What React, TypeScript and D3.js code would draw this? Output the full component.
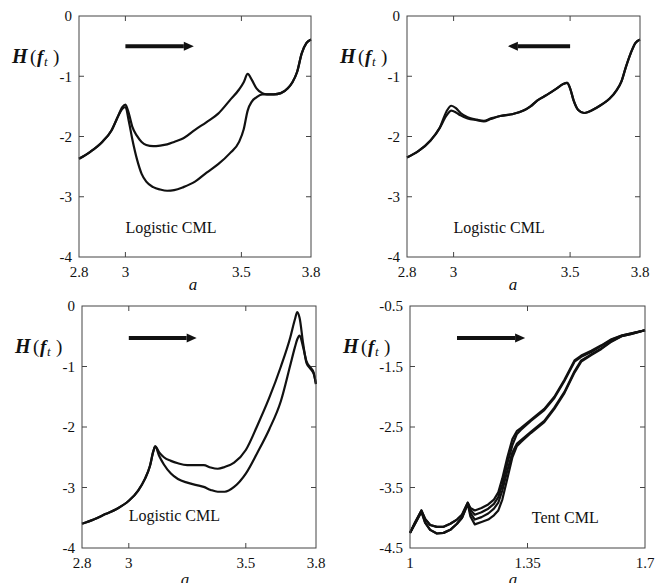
import React from "react";
import * as d3 from "d3";

const WIDTH = 657;
const HEIGHT = 583;
const SERIF = "Liberation Serif, Times New Roman, DejaVu Serif, serif";

// --- logistic CML, forward sweep (top left)
const p1A = [2.8, 2.85, 2.9, 2.94, 2.97, 2.985, 3.0, 3.015, 3.03, 3.05, 3.07, 3.09, 3.12, 3.15, 3.18, 3.21, 3.25, 3.3, 3.35, 3.4, 3.45, 3.49, 3.51, 3.527, 3.545, 3.565, 3.59, 3.61, 3.64, 3.67, 3.7, 3.72, 3.74, 3.76, 3.78, 3.8];
const p1Upper = [-2.37, -2.25, -2.09, -1.9, -1.65, -1.52, -1.47, -1.62, -1.84, -1.99, -2.09, -2.14, -2.16, -2.15, -2.13, -2.09, -2.03, -1.89, -1.76, -1.62, -1.4, -1.22, -1.1, -0.96, -1.06, -1.2, -1.28, -1.3, -1.3, -1.28, -1.2, -1.1, -0.93, -0.62, -0.45, -0.39];
const p1Lower = [-2.37, -2.25, -2.09, -1.9, -1.65, -1.55, -1.51, -1.75, -2.05, -2.38, -2.62, -2.75, -2.84, -2.88, -2.9, -2.89, -2.84, -2.75, -2.6, -2.46, -2.28, -2.09, -1.88, -1.57, -1.42, -1.35, -1.3, -1.3, -1.3, -1.28, -1.2, -1.1, -0.93, -0.62, -0.45, -0.39];

// --- logistic CML, backward sweep (top right)
const p2A = [2.8, 2.85, 2.9, 2.94, 2.97, 2.99, 3.01, 3.03, 3.06, 3.1, 3.13, 3.16, 3.2, 3.25, 3.3, 3.33, 3.36, 3.4, 3.44, 3.47, 3.487, 3.5, 3.515, 3.535, 3.56, 3.58, 3.61, 3.64, 3.67, 3.7, 3.72, 3.74, 3.76, 3.78, 3.8];
const p2Upper = [-2.35, -2.24, -2.07, -1.86, -1.58, -1.49, -1.53, -1.61, -1.68, -1.72, -1.74, -1.7, -1.66, -1.63, -1.57, -1.5, -1.4, -1.31, -1.21, -1.13, -1.11, -1.2, -1.4, -1.56, -1.61, -1.59, -1.53, -1.46, -1.37, -1.23, -1.09, -0.84, -0.62, -0.45, -0.39];
const p2Lower = [-2.35, -2.24, -2.07, -1.86, -1.65, -1.57, -1.6, -1.65, -1.7, -1.73, -1.75, -1.71, -1.66, -1.63, -1.57, -1.5, -1.4, -1.31, -1.21, -1.13, -1.11, -1.2, -1.4, -1.56, -1.61, -1.59, -1.53, -1.46, -1.37, -1.23, -1.09, -0.84, -0.62, -0.45, -0.39];

// --- logistic CML, forward sweep (bottom left)
const p3A = [2.8, 2.85, 2.9, 2.95, 3.0, 3.04, 3.07, 3.09, 3.105, 3.113, 3.13, 3.15, 3.18, 3.21, 3.25, 3.29, 3.32, 3.35, 3.38, 3.41, 3.45, 3.5, 3.55, 3.6, 3.65, 3.69, 3.71, 3.72, 3.73, 3.745, 3.76, 3.775, 3.79, 3.8];
const p3Upper = [-3.6, -3.53, -3.44, -3.35, -3.22, -3.05, -2.85, -2.65, -2.4, -2.32, -2.42, -2.5, -2.56, -2.6, -2.63, -2.63, -2.63, -2.67, -2.69, -2.66, -2.59, -2.38, -1.97, -1.52, -1.0, -0.52, -0.22, -0.1, -0.2, -0.62, -0.95, -1.03, -1.12, -1.29];
const p3Lower = [-3.6, -3.53, -3.44, -3.35, -3.22, -3.05, -2.85, -2.65, -2.4, -2.32, -2.48, -2.62, -2.77, -2.86, -2.92, -2.96, -2.99, -3.04, -3.07, -3.07, -2.99, -2.77, -2.42, -2.04, -1.57, -0.98, -0.68, -0.55, -0.49, -0.68, -0.92, -1.01, -1.1, -1.29];

// --- tent CML (bottom right)
const p4A = [1.0, 1.015, 1.034, 1.045, 1.06, 1.08, 1.1, 1.12, 1.14, 1.155, 1.172, 1.18, 1.193, 1.213, 1.233, 1.25, 1.263, 1.275, 1.29, 1.305, 1.318, 1.33, 1.36, 1.4, 1.43, 1.46, 1.49, 1.51, 1.54, 1.57, 1.6, 1.63, 1.66, 1.7];
const p4S1 = [-4.25, -4.08, -3.88, -4.02, -4.12, -4.15, -4.15, -4.1, -4.03, -3.95, -3.75, -3.84, -3.88, -3.84, -3.78, -3.7, -3.58, -3.35, -3.0, -2.7, -2.57, -2.52, -2.38, -2.2, -2.0, -1.72, -1.4, -1.32, -1.24, -1.15, -1.05, -0.99, -0.95, -0.9];
const p4S2 = [-4.25, -4.08, -3.88, -4.02, -4.12, -4.15, -4.15, -4.1, -4.03, -3.95, -3.75, -3.87, -3.95, -3.91, -3.85, -3.77, -3.66, -3.45, -3.1, -2.8, -2.62, -2.55, -2.4, -2.22, -2.02, -1.74, -1.42, -1.34, -1.26, -1.16, -1.06, -0.99, -0.95, -0.9];
const p4S3 = [-4.25, -4.1, -3.9, -4.08, -4.2, -4.26, -4.25, -4.2, -4.1, -4.0, -3.77, -3.92, -4.03, -3.99, -3.93, -3.85, -3.75, -3.55, -3.22, -2.92, -2.78, -2.72, -2.58, -2.4, -2.18, -1.92, -1.58, -1.4, -1.3, -1.2, -1.08, -1.0, -0.96, -0.9];
const p4S4 = [-4.25, -4.1, -3.9, -4.08, -4.2, -4.26, -4.25, -4.2, -4.1, -4.0, -3.77, -3.98, -4.11, -4.07, -4.03, -3.96, -3.88, -3.7, -3.35, -3.0, -2.82, -2.75, -2.6, -2.42, -2.2, -1.94, -1.6, -1.42, -1.31, -1.21, -1.09, -1.0, -0.96, -0.9];

const logisticXTicks = [2.8, 3, 3.5, 3.8];
const logisticYTicks = [0, -1, -2, -3, -4];
const tentXTicks = [1, 1.35, 1.7];
const tentYTicks = [-0.5, -1.5, -2.5, -3.5, -4.5];

type PanelCfg = {
  left: number; right: number; top: number; bottom: number;
  xDomain: [number, number]; yDomain: [number, number];
  xTicks: number[]; yTicks: number[];
  xs: number[]; series: number[][];
  curve: d3.CurveFactory;
  arrow: { from: number; to: number; at: number };
  label: string; labelAt: [number, number];
  aX: number; aY: number;
};

const panels: PanelCfg[] = [
  {
    left: 79, right: 311, top: 16, bottom: 257,
    xDomain: [2.8, 3.8], yDomain: [-4, 0],
    xTicks: logisticXTicks, yTicks: logisticYTicks,
    xs: p1A, series: [p1Upper, p1Lower], curve: d3.curveMonotoneX,
    arrow: { from: 3.0, to: 3.295, at: -0.5 },
    label: "Logistic CML", labelAt: [3.0, -3.6],
    aX: 193, aY: 290,
  },
  {
    left: 407, right: 640, top: 16, bottom: 257,
    xDomain: [2.8, 3.8], yDomain: [-4, 0],
    xTicks: logisticXTicks, yTicks: logisticYTicks,
    xs: p2A, series: [p2Upper, p2Lower], curve: d3.curveMonotoneX,
    arrow: { from: 3.5, to: 3.233, at: -0.5 },
    label: "Logistic CML", labelAt: [3.0, -3.6],
    aX: 513, aY: 290,
  },
  {
    left: 82, right: 316, top: 306, bottom: 548,
    xDomain: [2.8, 3.8], yDomain: [-4, 0],
    xTicks: logisticXTicks, yTicks: logisticYTicks,
    xs: p3A, series: [p3Upper, p3Lower], curve: d3.curveMonotoneX,
    arrow: { from: 3.0, to: 3.29, at: -0.53 },
    label: "Logistic CML", labelAt: [3.0, -3.56],
    aX: 185, aY: 585,
  },
  {
    left: 410, right: 645, top: 306, bottom: 548,
    xDomain: [1, 1.7], yDomain: [-4.5, -0.5],
    xTicks: tentXTicks, yTicks: tentYTicks,
    xs: p4A, series: [p4S1, p4S2, p4S3, p4S4], curve: d3.curveLinear,
    arrow: { from: 1.14, to: 1.343, at: -1.03 },
    label: "Tent CML", labelAt: [1.363, -4.09],
    aX: 513, aY: 585,
  },
];

function Panel({ cfg }: { cfg: PanelCfg }) {
  const x = d3.scaleLinear().domain(cfg.xDomain).range([cfg.left, cfg.right]);
  const y = d3.scaleLinear().domain(cfg.yDomain).range([cfg.bottom, cfg.top]);
  const line = d3
    .line<number>()
    .x((_, i) => x(cfg.xs[i]))
    .y((d) => y(d))
    .curve(cfg.curve);
  const tick = 5;
  const inner = (v: number, dom: [number, number]) => v > dom[0] + 1e-9 && v < dom[1] - 1e-9;

  const ax0 = x(cfg.arrow.from);
  const ax1 = x(cfg.arrow.to);
  const ay = y(cfg.arrow.at);
  const dir = Math.sign(ax1 - ax0);
  const head = 10;
  const lx = cfg.left - 67;

  return (
    <g>
      {cfg.series.map((s, i) => (
        <path key={i} d={line(s) ?? ""} fill="none" stroke="#111" strokeWidth={2.2} strokeLinejoin="round" />
      ))}
      <rect x={cfg.left} y={cfg.top} width={cfg.right - cfg.left} height={cfg.bottom - cfg.top} fill="none" stroke="#444" strokeWidth={1} />
      {cfg.xTicks.filter((t) => inner(t, cfg.xDomain)).map((t) => (
        <g key={"xt" + t} stroke="#444" strokeWidth={1}>
          <line x1={x(t)} x2={x(t)} y1={cfg.bottom} y2={cfg.bottom - tick} />
          <line x1={x(t)} x2={x(t)} y1={cfg.top} y2={cfg.top + tick} />
        </g>
      ))}
      {cfg.yTicks.filter((t) => inner(t, cfg.yDomain)).map((t) => (
        <g key={"yt" + t} stroke="#444" strokeWidth={1}>
          <line x1={cfg.left} x2={cfg.left + tick} y1={y(t)} y2={y(t)} />
          <line x1={cfg.right} x2={cfg.right - tick} y1={y(t)} y2={y(t)} />
        </g>
      ))}
      {cfg.xTicks.map((t) => (
        <text key={"xl" + t} x={x(t)} y={cfg.bottom + 20} textAnchor="middle" fontSize={15} style={{ fontFamily: SERIF }} fill="#111">
          {String(t)}
        </text>
      ))}
      {cfg.yTicks.map((t) => (
        <text key={"yl" + t} x={cfg.left - 7} y={y(t)} dy="0.35em" textAnchor="end" fontSize={15} style={{ fontFamily: SERIF }} fill="#111">
          {String(t)}
        </text>
      ))}
      <text x={cfg.aX} y={cfg.aY} textAnchor="middle" fontSize={17} fontStyle="italic" style={{ fontFamily: SERIF }} fill="#111">a</text>
      <text y={cfg.top + 47} fontSize={19} style={{ fontFamily: SERIF }} fill="#111">
        <tspan x={lx} fontWeight="bold" fontStyle="italic" fontSize={20}>H</tspan>
        <tspan x={lx + 18}>(</tspan>
        <tspan x={lx + 25} fontWeight="bold" fontStyle="italic">f</tspan>
        <tspan x={lx + 32} fontStyle="italic" fontSize={13} dy={3}>t</tspan>
        <tspan x={lx + 41} dy={-3}>)</tspan>
      </text>
      <line x1={ax0} x2={ax1 - dir * head} y1={ay} y2={ay} stroke="#111" strokeWidth={4} />
      <path d={`M${ax1},${ay} L${ax1 - dir * head},${ay - 4.5} L${ax1 - dir * head},${ay + 4.5} Z`} fill="#111" />
      <text x={x(cfg.labelAt[0])} y={y(cfg.labelAt[1])} fontSize={16} style={{ fontFamily: SERIF }} fill="#111">
        {cfg.label}
      </text>
    </g>
  );
}

export default function App() {
  return (
    <svg width={WIDTH} height={HEIGHT} style={{ position: "absolute", left: 0, top: 0, background: "#fff" }}>
      {panels.map((p, i) => (
        <Panel key={i} cfg={p} />
      ))}
    </svg>
  );
}
